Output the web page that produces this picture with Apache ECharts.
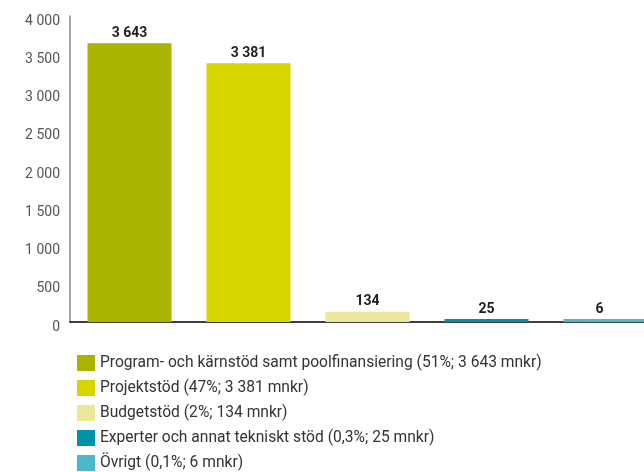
<!DOCTYPE html>
<html><head><meta charset="utf-8">
<script src="https://cdn.jsdelivr.net/npm/echarts@6/dist/echarts.min.js"></script>
<style>html,body{margin:0;padding:0;background:#fff}#c{width:644px;height:472px}</style>
</head><body><div id="c"></div>
<script>
const categories = ['Program- och kärnstöd', 'Projektstöd', 'Budgetstöd', 'Experter', 'Övrigt'];
const values = [3643, 3381, 134, 25, 6];
const legendNames = [
  'Program- och kärnstöd samt poolfinansiering (51%; 3 643 mnkr)',
  'Projektstöd (47%; 3 381 mnkr)',
  'Budgetstöd (2%; 134 mnkr)',
  'Experter och annat tekniskt stöd (0,3%; 25 mnkr)',
  'Övrigt (0,1%; 6 mnkr)'
];
const colors = ['#A9B300', '#D8D400', '#ECE89B', '#0090A8', '#4DB8C8'];
const yTicks = [0, 500, 1000, 1500, 2000, 2500, 3000, 3500, 4000];

function fmt(v){ return String(v).replace(/\B(?=(\d{3})+(?!\d))/g, ' '); }

const series = values.map((v, i) => ({
  name: legendNames[i],
  type: 'bar',
  stack: 'all',
  barWidth: 84,
  barMinHeight: 3,
  z: 5,
  itemStyle: { color: colors[i] },
  data: values.map((_, j) => j === i ? v : '-'),
  label: {
    show: true, position: 'top', distance: 3,
    offset: i === values.length - 1 ? [-6, 0] : [0, 0],
    fontFamily: 'Roboto', fontWeight: 'bold', fontSize: 14, color: '#222',
    formatter: p => fmt(p.value)
  }
}));

const chart = echarts.init(document.getElementById('c'), null, {renderer: 'canvas'});
chart.setOption({
  animation: false,
  color: colors,
  grid: { left: 70, top: 16, width: 595, height: 306, containLabel: false, outerBoundsMode: 'none' },
  legend: {
    orient: 'vertical', left: 72, top: 350, height: 200,
    itemWidth: 18, itemHeight: 16, itemGap: 9,
    icon: 'rect',
    textStyle: { fontFamily: 'Roboto', fontSize: 15.6, color: '#333' },
    data: legendNames
  },
  xAxis: {
    type: 'category', data: categories, z: 1,
    axisLine: { lineStyle: { color: '#000', width: 1.5 } },
    axisTick: { show: false }, axisLabel: { show: false }
  },
  yAxis: {
    type: 'value', min: 0, max: 4000, interval: 500,
    splitLine: { show: false },
    axisLine: { show: true, lineStyle: { color: '#888', width: 1.5 } },
    axisTick: { show: false },
    axisLabel: {
      margin: 10, fontFamily: 'Roboto', fontSize: 14, color: '#555',
      verticalAlign: 'top', lineHeight: 10,
      formatter: v => fmt(v)
    }
  },
  series: series
});
</script></body></html>
